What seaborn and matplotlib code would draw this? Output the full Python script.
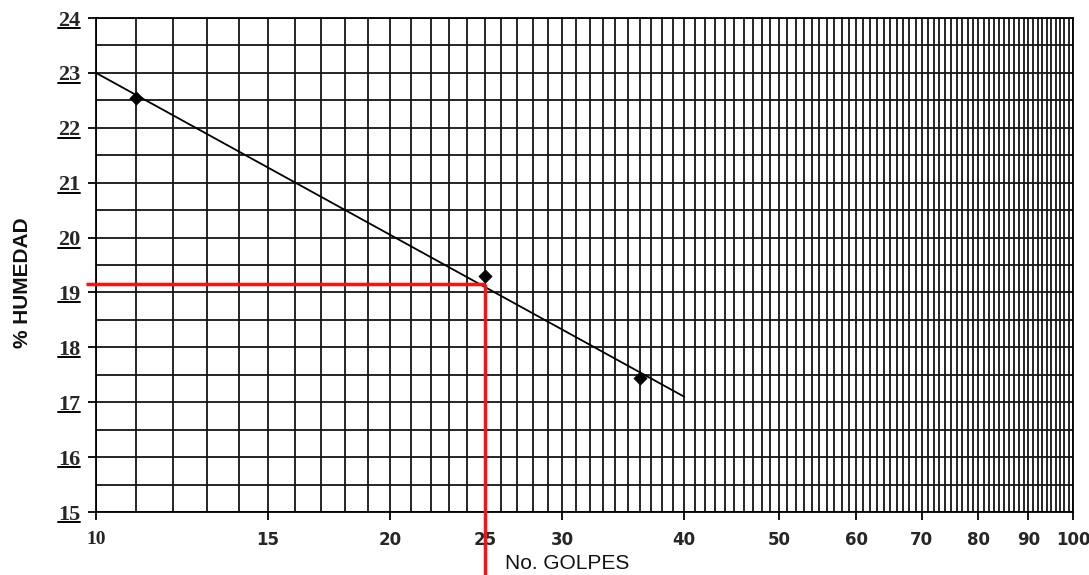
import matplotlib
matplotlib.use("Agg")
import matplotlib.pyplot as plt
import matplotlib.transforms as mtransforms
import seaborn as sns
import pandas as pd

# datos
golpes = [11, 25, 36]
humedad = [22.55, 19.3, 17.45]

# recta de tendencia (escala log en x)
tendencia_golpes = [10, 40]
tendencia_humedad = [23.0, 17.1]

# lectura a 25 golpes
golpes_ref = 25
humedad_ref = 19.15

xticks = [10, 15, 20, 25, 30, 40, 50, 60, 70, 80, 90, 100]
yticks = [15, 16, 17, 18, 19, 20, 21, 22, 23, 24]

sns.set_style("white")
plt.rcParams["font.family"] = ["Liberation Sans", "DejaVu Sans"]

fig = plt.figure(figsize=(10.89, 5.75), dpi=100)
ax = fig.add_axes([96 / 1089, 1 - 512 / 575, 977 / 1089, 494 / 575])

df_tend = pd.DataFrame({"golpes": tendencia_golpes, "humedad": tendencia_humedad})
df_pts = pd.DataFrame({"golpes": golpes, "humedad": humedad})

sns.lineplot(data=df_tend, x="golpes", y="humedad", color="black", lw=1.3, ax=ax, zorder=4)
sns.scatterplot(data=df_pts, x="golpes", y="humedad", marker="D", s=45,
                color="black", edgecolor="black", ax=ax, zorder=5)

ax.set_xscale("log")
ax.set_xlim(10, 100)
ax.set_ylim(15, 24)

# lineas rojas de lectura
ax.plot([9.77, golpes_ref], [humedad_ref, humedad_ref], color="#ff1010", lw=2.5,
        clip_on=False, zorder=6, solid_capstyle="butt")
ax.plot([golpes_ref, golpes_ref], [humedad_ref, 13.85], color="#ff1010", lw=2.5,
        clip_on=False, zorder=6, solid_capstyle="butt")

# cuadricula
ax.set_xticks(xticks)
ax.set_xticks(list(range(10, 101)), minor=True)
ax.set_xticklabels([str(t) for t in xticks], fontsize=12, fontweight="bold",
                   family=["DejaVu Sans"])
ax.set_yticks(yticks)
ax.set_yticks([v + 0.5 for v in yticks[:-1]], minor=True)
ax.set_yticklabels([str(t) for t in yticks], fontsize=16, fontweight="bold",
                   family=["Liberation Serif"])
ax.xaxis.set_minor_formatter(matplotlib.ticker.NullFormatter())
ax.grid(which="both", color="#151515", lw=1.3)
ax.tick_params(axis="both", which="major", direction="out", length=6, width=1.3,
               color="black", bottom=True, left=True)
ax.tick_params(axis="both", which="minor", length=0)
ax.tick_params(axis="x", pad=8)
ax.tick_params(axis="y", pad=5)
for lab in ax.get_xticklabels():
    if lab.get_text() == "10":
        lab.set_family("Liberation Serif")
        lab.set_fontsize(14)
for s in ax.spines.values():
    s.set_color("black")
    s.set_linewidth(1.3)

# subrayado de las etiquetas del eje y
trans = ax.get_yaxis_transform() + mtransforms.ScaledTranslation(0, -10 / 100, fig.dpi_scale_trans)
for t in yticks:
    ax.plot([-0.039, -0.016], [t, t], color="black", lw=1.4, transform=trans,
            clip_on=False)

ax.set_xlabel("No. GOLPES", fontsize=15, color="#111111")
ax.xaxis.set_label_coords(0.482, -0.086)
ax.set_ylabel("% HUMEDAD", fontsize=15, fontweight="bold", color="#111111")
ax.yaxis.set_label_coords(-0.066, 0.464)

fig.savefig("out.png", dpi=100)
